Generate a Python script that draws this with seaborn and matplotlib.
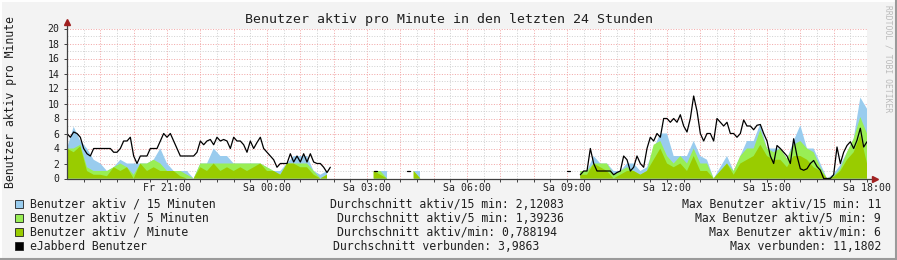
import numpy as np
import pandas as pd
import matplotlib
matplotlib.use("Agg")
import matplotlib.pyplot as plt
import seaborn as sns
from matplotlib.patches import Rectangle
from matplotlib.lines import Line2D

nan = np.nan

# ---------------- data (Fr 18:00 .. Sa 18:00) ----------------
# 12-minute samples, 121 points
aktiv_15min = ([4, 6.9, 5, 4, 2.5, 2, 1, 1.5, 2.5, 2, 2, 2, 2, 2.5, 4, 2, 1, 1, 1, 0,
                2, 2, 4, 3, 3, 2, 2, 2, 2, 2, 1.5, 1, 1, 2, 3, 3, 3, 1, 0.5, 1]
               + [nan] * 6 + [1, 1, 1] + [nan] * 3 + [1, 1] + [nan] * 23
               + [1, 1, 3, 2, 2, 1, 1, 2, 2, 1, 1.5, 4, 6, 6, 3, 3, 3, 5, 3, 2.5, 0, 1.5,
                  3, 1, 3, 5, 5, 7.3, 4, 4, 4, 2.6, 5, 7.1, 4, 4, 2, 0, 0.6, 1.8, 3.5, 5.3,
                  10.8, 9.3])
aktiv_5min = ([4, 4, 4.5, 1.5, 1, 1, 1, 1.5, 2, 1.5, 0.5, 2, 2, 2.5, 2, 1, 1, 1, 0.5, 0,
               2, 2, 2, 2, 2, 2, 2, 2, 2, 2, 1.5, 1, 0.5, 2, 2, 2, 2, 1, 0, 0.5]
              + [nan] * 6 + [1, 1, 0] + [nan] * 3 + [1, 0] + [nan] * 23
              + [1, 1, 2, 2, 2, 0.5, 1, 1.5, 1, 0.5, 1, 4.5, 5, 3, 2, 3, 2, 4, 2, 2, 0, 1,
                 2, 1, 3, 4, 4, 6.5, 4, 3.5, 4, 2.6, 4.5, 5, 4, 3.5, 1.5, 0, 0.3, 1.3, 3.5,
                 5.3, 8.2, 6])
aktiv_1min = ([4, 3.5, 4.3, 1, 0.5, 0.5, 0.3, 1.5, 1, 1.5, 0, 2, 1, 1.5, 1, 1, 1, 0.3, 0, 0,
               1.5, 1, 2, 1, 1.5, 1, 1.5, 1, 1.5, 2, 1, 1, 0.5, 2, 2, 1.5, 1.5, 0.5, 0, 0.5]
              + [nan] * 6 + [1, 0.5, 0] + [nan] * 3 + [1, 0] + [nan] * 23
              + [0.5, 0.5, 2, 1.5, 1, 0, 0.5, 1, 1, 0.5, 1, 2.5, 4, 2, 1.5, 2, 1, 3, 1, 1,
                 0, 1, 2, 0.5, 2, 2.5, 3, 4.5, 3, 2.5, 2.5, 1.5, 3, 3, 2.5, 1.5, 1, 0, 0.2,
                 1, 2.5, 3.5, 5.8, 2])
# 6-minute samples, 241 points
ejabberd = ([6, 5.5, 6.2, 6, 5.5, 4, 3.3, 3, 4, 4,
             4, 4, 4, 4, 3.5, 3.5, 4, 5, 5, 5.5,
             3, 2, 3, 3, 3, 4, 4, 4, 5, 6,
             5.5, 6, 5, 4, 3, 3, 3, 3, 3, 3.5,
             5, 4.5, 5, 5.2, 4.5, 5.5, 5, 5.2, 5, 4,
             5.5, 5, 5, 4.5, 3.5, 5, 4, 4.8, 5.5, 4,
             3.5, 3, 2.5, 1.5, 2, 2, 2, 3.3, 2.2, 3,
             2.2, 3.3, 2.2, 3.3, 2.2, 2, 2, 1.5, 0.8, 1.5]
            + [nan] * 12 + [1, 1] + [nan] * 8 + [1, 1] + [nan] * 46 + [1, 1] + [nan] * 2
            + [0.5, 1, 1, 4, 2, 1, 1, 1, 1, 1,
               0.5, 0.8, 1, 3, 2.5, 1, 1.5, 3, 2, 1.5,
               4, 5.5, 5, 6, 5.5, 8,
               8, 7.5, 8, 7.5, 8.5, 7, 6.2, 8, 11, 9,
               6, 5, 6, 6, 5, 8, 7.5, 7, 7.5, 6,
               6, 5.5, 6, 7.8, 7, 7, 6.5, 7.1, 7.2, 6,
               5, 3, 2, 4.4, 4, 3.5, 3, 2, 5.3, 3,
               1.3, 1.1, 1.3, 2, 2.4, 1.6, 1.1, 0, 0, 0,
               0.5, 4.2, 2, 3.5, 4.4, 4.9, 4, 5.1, 6.7, 4.2,
               4.9])

tick_hours = [3, 6, 9, 12, 15, 18, 21, 24]
tick_labels = ["Fr 21:00", "Sa 00:00", "Sa 03:00", "Sa 06:00",
               "Sa 09:00", "Sa 12:00", "Sa 15:00", "Sa 18:00"]
series_names = ["Benutzer aktiv / 15 Minuten", "Benutzer aktiv / 5 Minuten",
                "Benutzer aktiv / Minute", "eJabberd Benutzer"]
avg_texts = ["Durchschnitt aktiv/15 min: 2,12083", "Durchschnitt aktiv/5 min: 1,39236",
             "Durchschnitt aktiv/min: 0,788194", "Durchschnitt verbunden: 3,9863"]
max_texts = ["Max Benutzer aktiv/15 min: 11", "Max Benutzer aktiv/5 min: 9",
             "Max Benutzer aktiv/min: 6", "Max verbunden: 11,1802"]
colors = ["#99CCEE", "#99EE55", "#99CC00", "#000000"]

# ---------------- figure ----------------
sns.set_style("white")
plt.rcParams['font.family'] = ['DejaVu Sans Mono']

W, H = 897, 260
fig = plt.figure(figsize=(W / 100, H / 100), dpi=100, facecolor='#F3F3F3')
ax = fig.add_axes([67 / W, (H - 178.5) / H, 800 / W, 150 / H])
ax.set_facecolor('white')

h12 = np.arange(len(aktiv_15min)) * 0.2
h6 = np.arange(len(ejabberd)) * 0.1

# grid (dotted)
red = '#F2A8A8'
gray = '#D2D2D2'
for h in np.arange(0.5, 24.01, 0.5):
    ax.axvline(h, color=red if abs(h - round(h)) < 1e-9 else gray,
               lw=0.72, ls=(0, (1, 1.6)), zorder=1)
for v in range(1, 21):
    ax.axhline(v, color=red if v % 2 == 0 else gray, lw=0.72, ls=(0, (1, 1.6)), zorder=1)

# areas
for vals, c, z in [(aktiv_15min, colors[0], 2), (aktiv_5min, colors[1], 3), (aktiv_1min, colors[2], 4)]:
    ax.fill_between(h12, 0, np.array(vals, dtype=float), color=c, lw=0, zorder=z)

# black line
ej = np.array(ejabberd, dtype=float)
df = pd.DataFrame({'h': h6, 'v': ej, 'seg': np.cumsum(np.isnan(ej))}).dropna()
sns.lineplot(data=df, x='h', y='v', units='seg', estimator=None, color='black',
             lw=0.9, ax=ax, legend=False, zorder=6)

ax.set_xlim(0, 24)
ax.set_ylim(0, 20)
ax.set_xlabel('')
ax.set_ylabel('')
for s in ax.spines.values():
    s.set_visible(False)

# axes lines with arrows
axis_col = '#404040'
ax.plot([0, 24.2], [0, 0], color=axis_col, lw=0.9, clip_on=False, zorder=7)
ax.plot([0, 0], [0, 20.8], color=axis_col, lw=0.9, clip_on=False, zorder=7)
ax.plot([24.25], [0], marker='>', ms=4.5, color='#A02020', mec='#A02020', clip_on=False, zorder=8)
ax.plot([0], [20.85], marker='^', ms=4.5, color='#A02020', mec='#A02020', clip_on=False, zorder=8)

# ticks
ax.set_xticks(tick_hours)
ax.set_xticklabels(tick_labels, fontsize=7.1, color='#202020')
ax.set_xticks(np.arange(0.5, 24.01, 0.5), minor=True)
ax.set_yticks(range(0, 21, 2))
ax.set_yticklabels([str(v) for v in range(0, 21, 2)], fontsize=7.1, color='#202020')
ax.tick_params(axis='x', which='both', length=2, width=0.7, color=axis_col, pad=1.5, direction='out', bottom=True)
ax.tick_params(axis='y', which='both', length=2, width=0.7, color=axis_col, pad=3.5, direction='out', left=True)

# title & labels
fig.text(0.5, 1 - 19 / H, "Benutzer aktiv pro Minute in den letzten 24 Stunden",
         ha='center', va='center', fontsize=9.5, color='#202020')
fig.text(11 / W, 1 - 102 / H, "Benutzer aktiv pro Minute", rotation=90,
         ha='center', va='center', fontsize=8.3, color='#202020')
fig.text(888 / W, 1 - 5 / H, "RRDTOOL / TOBI OETIKER", rotation=270,
         ha='center', va='top', fontsize=5.8, color='#BBBBBB')

# legend
row_y = [204, 218, 232, 246]
avg_x = [330, 336.7, 336.7, 333]
for k in range(4):
    y = row_y[k]
    fig.patches.append(Rectangle((15 / W, 1 - (y + 4) / H), 8 / W, 8 / H,
                                 facecolor=colors[k], edgecolor='#202020', lw=0.6,
                                 transform=fig.transFigure, figure=fig))
    fig.text(30 / W, 1 - y / H, series_names[k], ha='left', va='center', fontsize=8.3, color='#202020')
    fig.text(avg_x[k] / W, 1 - y / H, avg_texts[k], ha='left', va='center', fontsize=8.3, color='#202020')
    fig.text(881 / W, 1 - y / H, max_texts[k], ha='right', va='center', fontsize=8.3, color='#202020')

# 3D frame
fig.lines.append(Line2D([0, 1], [1 - 0.5 / H, 1 - 0.5 / H], color='white', lw=1.4, transform=fig.transFigure))
fig.lines.append(Line2D([0.5 / W, 0.5 / W], [0, 1], color='white', lw=1.4, transform=fig.transFigure))
fig.lines.append(Line2D([0, 1], [1 / H, 1 / H], color='#9A9A9A', lw=1.5, transform=fig.transFigure))
fig.lines.append(Line2D([1 - 1 / W, 1 - 1 / W], [0, 1], color='#9A9A9A', lw=1.5, transform=fig.transFigure))

fig.savefig("out.png", dpi=100, facecolor=fig.get_facecolor())
